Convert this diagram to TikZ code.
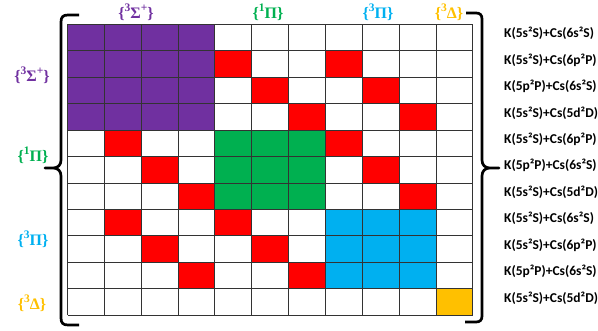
\documentclass[tikz,border=0pt]{standalone}
\usepackage{fontspec}
\newfontfamily\lblfont{Carlito}
\newfontfamily\grpfont{Liberation Serif}
\definecolor{cpurple}{HTML}{7030A0}
\definecolor{cgreen}{HTML}{00B050}
\definecolor{cblue}{HTML}{00B0F0}
\definecolor{corange}{HTML}{FFC000}
\definecolor{cred}{HTML}{FF0000}
\newcommand{\gsup}[1]{\raisebox{0.42em}{\fontsize{11.5}{12}\selectfont #1}}
\tikzset{
  grp/.style={font=\grpfont\bfseries\fontsize{16}{18}\selectfont, inner sep=0pt},
  statelbl/.style={font=\lblfont\bfseries\fontsize{13.5}{16}\selectfont, inner sep=0pt, anchor=west},
  gridline/.style={black!80, line width=0.9pt},
  bracestyle/.style={black, line width=2.7pt, line cap=butt, line join=round},
}
\begin{document}
\begin{tikzpicture}[x=1pt,y=-1pt]
\useasboundingbox (0,0) rectangle (598,331);
\def\cw{36.85}
\def\ch{26.45}
\def\gx{67.5}
\def\gy{24.3}
% diagonal blocks
\fill[cpurple] (\gx,\gy) rectangle ++({4*\cw},{4*\ch});
\fill[cgreen] ({\gx+4*\cw},{\gy+4*\ch}) rectangle ++({3*\cw},{3*\ch});
\fill[cblue] ({\gx+7*\cw},{\gy+7*\ch}) rectangle ++({3*\cw},{3*\ch});
\fill[corange] ({\gx+10*\cw},{\gy+10*\ch}) rectangle ++({\cw},{\ch});
% coupling cells
\foreach \r/\c in {1/4,2/5,3/6,1/7,2/8,3/9,4/7,5/8,6/9,4/1,5/2,6/3,7/1,8/2,9/3,7/4,8/5,9/6}
  \fill[cred] ({\gx+\c*\cw},{\gy+\r*\ch}) rectangle ++({\cw},{\ch});
% grid
\foreach \i in {0,...,11} {
  \draw[gridline] ({\gx+\i*\cw},\gy) -- ({\gx+\i*\cw},{\gy+11*\ch});
  \draw[gridline] (\gx,{\gy+\i*\ch}) -- ({\gx+11*\cw},{\gy+\i*\ch});
}
% braces
\draw[bracestyle] (79,15) -- (68,15) .. controls (63,15) and (61,17) .. (61,22) -- (61,160)
  .. controls (61,165) and (58,168) .. (53,168) -- (45,168) -- (53,168)
  .. controls (58,168) and (61,171) .. (61,176) -- (61,318)
  .. controls (61,323) and (63,325) .. (68,325) -- (79,325);
\draw[bracestyle] (466,13) -- (476,13) .. controls (480,13) and (482,15) .. (482,19) -- (482,160)
  .. controls (482,165) and (485,168) .. (490,168) -- (499,168) -- (490,168)
  .. controls (485,168) and (482,171) .. (482,176) -- (482,316)
  .. controls (482,320) and (480,322) .. (476,322) -- (465,322);
% group labels top
\node[grp, text=cpurple] (tS) at (136,12) {\{\gsup{3}Σ\gsup{+}\}};
\node[grp, text=cgreen] (tP1) at (268,12) {\{\gsup{1}Π\}};
\node[grp, text=cblue] (tP3) at (378,12) {\{\gsup{3}Π\}};
\node[grp, text=corange] (tD) at (449,12) {\{\gsup{3}Δ\}};
% group labels left
\node[grp, text=cpurple] (lS) at (32,75) {\{\gsup{3}Σ\gsup{+}\}};
\node[grp, text=cgreen] (lP1) at (33,155) {\{\gsup{1}Π\}};
\node[grp, text=cblue] (lP3) at (33,239) {\{\gsup{3}Π\}};
\node[grp, text=corange] (lD) at (32,303) {\{\gsup{3}Δ\}};
% state labels
\foreach \k/\t in {0/{K(5s²S)+Cs(6s²S)},1/{K(5s²S)+Cs(6p²P)},2/{K(5p²P)+Cs(6s²S)},3/{K(5s²S)+Cs(5d²D)},
  4/{K(5s²S)+Cs(6p²P)},5/{K(5p²P)+Cs(6s²S)},6/{K(5s²S)+Cs(5d²D)},
  7/{K(5s²S)+Cs(6s²S)},8/{K(5s²S)+Cs(6p²P)},9/{K(5p²P)+Cs(6s²S)},10/{K(5s²S)+Cs(5d²D)}}
  \node[statelbl] (r\k) at (504,{\gy+(\k+0.5)*\ch-4}) {\t};
\end{tikzpicture}
\end{document}
